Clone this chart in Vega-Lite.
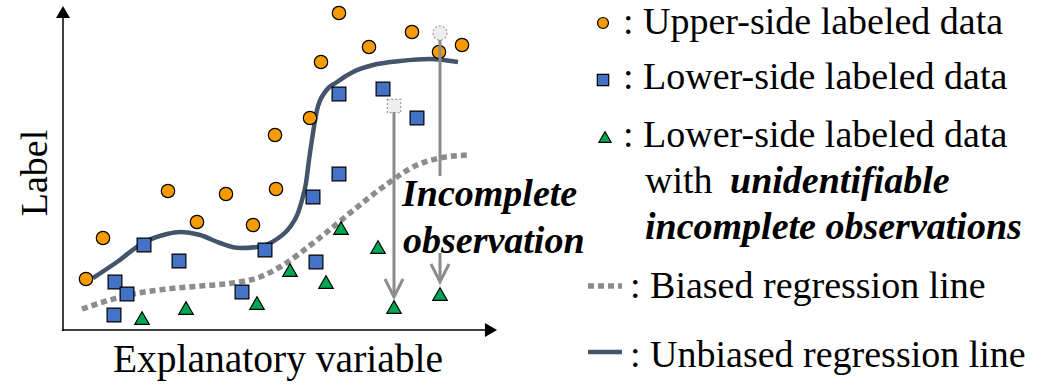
{
  "$schema": "https://vega.github.io/schema/vega-lite/v6.json",
  "width": 1057,
  "height": 389,
  "autosize": {"type": "fit", "contains": "padding"},
  "padding": 0,
  "background": "white",
  "config": {"view": {"stroke": null}},
  "resolve": {"scale": {"size": "independent", "shape": "independent"}},
  "datasets": {
    "axes": [
      {"x": 63, "y": 331, "x2": 63, "y2": 16},
      {"x": 62, "y": 330, "x2": 488, "y2": 330}
    ],
    "headsUp": [{"x": 63, "y": 12}],
    "headsRight": [{"x": 491, "y": 330}],
    "biased": [
      {"x": 82, "y": 309, "s": "curve"}, {"x": 100, "y": 303, "s": "curve"}, {"x": 133, "y": 294, "s": "curve"},
      {"x": 167, "y": 289, "s": "curve"}, {"x": 200, "y": 286, "s": "curve"}, {"x": 233, "y": 283, "s": "curve"},
      {"x": 260, "y": 277, "s": "curve"}, {"x": 283, "y": 265, "s": "curve"}, {"x": 317, "y": 240, "s": "curve"},
      {"x": 350, "y": 213, "s": "curve"}, {"x": 383, "y": 187, "s": "curve"}, {"x": 417, "y": 165, "s": "curve"},
      {"x": 440, "y": 158, "s": "curve"}, {"x": 468, "y": 155, "s": "curve"},
      {"x": 588, "y": 286, "s": "legend"}, {"x": 622, "y": 286, "s": "legend"}
    ],
    "unbiased": [
      {"x": 93, "y": 278, "s": "curve"}, {"x": 117, "y": 262, "s": "curve"}, {"x": 143, "y": 243, "s": "curve"},
      {"x": 167, "y": 234, "s": "curve"}, {"x": 180, "y": 232, "s": "curve"}, {"x": 200, "y": 235, "s": "curve"},
      {"x": 220, "y": 243, "s": "curve"}, {"x": 240, "y": 248, "s": "curve"}, {"x": 257, "y": 247, "s": "curve"},
      {"x": 277, "y": 239, "s": "curve"}, {"x": 290, "y": 227, "s": "curve"}, {"x": 298, "y": 213, "s": "curve"},
      {"x": 302, "y": 200, "s": "curve"}, {"x": 306, "y": 183, "s": "curve"}, {"x": 309, "y": 160, "s": "curve"},
      {"x": 313, "y": 133, "s": "curve"}, {"x": 317, "y": 110, "s": "curve"}, {"x": 325, "y": 92, "s": "curve"},
      {"x": 337, "y": 82, "s": "curve"}, {"x": 353, "y": 72, "s": "curve"}, {"x": 373, "y": 65, "s": "curve"},
      {"x": 400, "y": 61, "s": "curve"}, {"x": 430, "y": 59, "s": "curve"}, {"x": 458, "y": 62, "s": "curve"},
      {"x": 588, "y": 352, "s": "legend"}, {"x": 622, "y": 352, "s": "legend"}
    ],
    "pts": [
      {"x": 86, "y": 279, "g": "upper", "role": "data"}, {"x": 103, "y": 238, "g": "upper", "role": "data"},
      {"x": 168, "y": 191, "g": "upper", "role": "data"}, {"x": 197, "y": 222, "g": "upper", "role": "data"},
      {"x": 226, "y": 194, "g": "upper", "role": "data"}, {"x": 253, "y": 225, "g": "upper", "role": "data"},
      {"x": 275, "y": 135, "g": "upper", "role": "data"}, {"x": 276, "y": 189, "g": "upper", "role": "data"},
      {"x": 310, "y": 118, "g": "upper", "role": "data"}, {"x": 321, "y": 62, "g": "upper", "role": "data"},
      {"x": 339, "y": 13, "g": "upper", "role": "data"}, {"x": 369, "y": 47, "g": "upper", "role": "data"},
      {"x": 412, "y": 32, "g": "upper", "role": "data"}, {"x": 439, "y": 52, "g": "upper", "role": "data"},
      {"x": 462, "y": 45, "g": "upper", "role": "data"}, {"x": 603, "y": 23, "g": "upper", "role": "legend"},
      {"x": 144, "y": 245, "g": "lower", "role": "data"}, {"x": 179, "y": 261, "g": "lower", "role": "data"},
      {"x": 115, "y": 282, "g": "lower", "role": "data"}, {"x": 127, "y": 294, "g": "lower", "role": "data"},
      {"x": 114, "y": 315, "g": "lower", "role": "data"}, {"x": 242, "y": 292, "g": "lower", "role": "data"},
      {"x": 265, "y": 250, "g": "lower", "role": "data"}, {"x": 316, "y": 262, "g": "lower", "role": "data"},
      {"x": 313, "y": 197, "g": "lower", "role": "data"}, {"x": 339, "y": 174, "g": "lower", "role": "data"},
      {"x": 339, "y": 94, "g": "lower", "role": "data"}, {"x": 383, "y": 89, "g": "lower", "role": "data"},
      {"x": 417, "y": 118, "g": "lower", "role": "data"}, {"x": 603, "y": 80, "g": "lower", "role": "legend"},
      {"x": 142, "y": 318, "g": "unid", "role": "data"}, {"x": 186, "y": 308, "g": "unid", "role": "data"},
      {"x": 257, "y": 303, "g": "unid", "role": "data"}, {"x": 290, "y": 270, "g": "unid", "role": "data"},
      {"x": 326, "y": 282, "g": "unid", "role": "data"}, {"x": 341, "y": 228, "g": "unid", "role": "data"},
      {"x": 378, "y": 247, "g": "unid", "role": "data"}, {"x": 394, "y": 307, "g": "unid", "role": "data"},
      {"x": 440, "y": 294, "g": "unid", "role": "data"}, {"x": 605, "y": 137, "g": "unid", "role": "legend"}
    ],
    "ghostSquare": [{"x": 394, "y": 106}],
    "ghostCircle": [{"x": 440, "y": 33}],
    "arrows": [
      {"x": 394, "y": 112, "x2": 394, "y2": 296},
      {"x": 440, "y": 40, "x2": 440, "y2": 176},
      {"x": 440, "y": 253, "x2": 440, "y2": 281}
    ],
    "chevrons": [
      {"x": 394, "y": 288},
      {"x": 440, "y": 273}
    ],
    "plain": [
      {"x": 623, "y": 34, "t": ": Upper-side labeled data"},
      {"x": 623, "y": 89, "t": ": Lower-side labeled data"},
      {"x": 623, "y": 147, "t": ": Lower-side labeled data"},
      {"x": 645, "y": 193, "t": "with"},
      {"x": 630, "y": 298, "t": ": Biased regression line"},
      {"x": 630, "y": 367, "t": ": Unbiased regression line"}
    ],
    "bold": [
      {"x": 730, "y": 193, "t": "unidentifiable"},
      {"x": 645, "y": 239, "t": "incomplete observations"},
      {"x": 402, "y": 206, "t": "Incomplete"},
      {"x": 403, "y": 253, "t": "observation"}
    ],
    "titles": [
      {"x": 278, "y": 372, "t": "Explanatory variable"}
    ],
    "ylabel": [
      {"x": 47, "y": 173, "t": "Label"}
    ]
  },
  "encoding": {
    "x": {"field": "x", "type": "quantitative", "scale": {"domain": [0, 1057], "nice": false, "zero": false}, "axis": null},
    "y": {"field": "y", "type": "quantitative", "scale": {"domain": [0, 389], "nice": false, "zero": false, "reverse": true}, "axis": null}
  },
  "layer": [
    {
      "data": {"name": "axes"},
      "mark": {"type": "rule", "color": "black", "strokeWidth": 1.5},
      "encoding": {"x2": {"field": "x2"}, "y2": {"field": "y2"}}
    },
    {
      "data": {"name": "headsUp"},
      "mark": {"type": "point", "shape": "triangle-up", "filled": true, "color": "black", "size": 196, "opacity": 1}
    },
    {
      "data": {"name": "headsRight"},
      "mark": {"type": "point", "shape": "triangle-right", "filled": true, "color": "black", "size": 196, "opacity": 1}
    },
    {
      "data": {"name": "biased"},
      "mark": {"type": "line", "color": "#8c8c8c", "strokeWidth": 5.5, "strokeDash": [6, 4], "strokeCap": "butt", "interpolate": "monotone"},
      "encoding": {"detail": {"field": "s"}}
    },
    {
      "data": {"name": "unbiased"},
      "mark": {"type": "line", "color": "#44546a", "strokeWidth": 4.5, "interpolate": "monotone"},
      "encoding": {"detail": {"field": "s"}}
    },
    {
      "data": {"name": "pts"},
      "transform": [{"filter": "datum.g === 'upper'"}],
      "mark": {"type": "point", "shape": "circle", "filled": true, "fill": "#f59b00", "stroke": "black", "strokeWidth": 1.2, "opacity": 1},
      "encoding": {"size": {"field": "role", "type": "nominal", "scale": {"domain": ["data", "legend"], "range": [180, 120]}, "legend": null}}
    },
    {
      "data": {"name": "pts"},
      "transform": [{"filter": "datum.g === 'lower'"}],
      "mark": {"type": "point", "shape": "square", "filled": true, "fill": "#4472c4", "stroke": "black", "strokeWidth": 1.2, "opacity": 1},
      "encoding": {"size": {"field": "role", "type": "nominal", "scale": {"domain": ["data", "legend"], "range": [190, 130]}, "legend": null}}
    },
    {
      "data": {"name": "pts"},
      "transform": [{"filter": "datum.g === 'unid'"}],
      "mark": {"type": "point", "shape": "triangle-up", "filled": true, "fill": "#00a550", "stroke": "black", "strokeWidth": 1.2, "opacity": 1},
      "encoding": {"size": {"field": "role", "type": "nominal", "scale": {"domain": ["data", "legend"], "range": [210, 150]}, "legend": null}}
    },
    {
      "data": {"name": "ghostSquare"},
      "mark": {"type": "point", "shape": "square", "filled": true, "fill": "#eeeeee", "stroke": "#9a9a9a", "strokeWidth": 1.2, "strokeDash": [2, 2], "size": 180, "opacity": 1}
    },
    {
      "data": {"name": "ghostCircle"},
      "mark": {"type": "point", "shape": "circle", "filled": true, "fill": "#eeeeee", "stroke": "#9a9a9a", "strokeWidth": 1.2, "strokeDash": [2, 2], "size": 200, "opacity": 1}
    },
    {
      "data": {"name": "arrows"},
      "mark": {"type": "rule", "color": "#8c8c8c", "strokeWidth": 3},
      "encoding": {"x2": {"field": "x2"}, "y2": {"field": "y2"}}
    },
    {
      "data": {"name": "chevrons"},
      "mark": {"type": "point", "shape": "M-1,-1L0,1L1,-1", "filled": false, "stroke": "#8c8c8c", "strokeWidth": 3, "size": 324, "opacity": 1}
    },
    {
      "data": {"name": "plain"},
      "mark": {"type": "text", "font": "Liberation Serif", "fontSize": 38, "align": "left", "baseline": "alphabetic", "color": "black"},
      "encoding": {"text": {"field": "t"}}
    },
    {
      "data": {"name": "bold"},
      "mark": {"type": "text", "font": "Liberation Serif", "fontSize": 38, "fontWeight": "bold", "fontStyle": "italic", "align": "left", "baseline": "alphabetic", "color": "black"},
      "encoding": {"text": {"field": "t"}}
    },
    {
      "data": {"name": "titles"},
      "mark": {"type": "text", "font": "Liberation Serif", "fontSize": 39.5, "align": "center", "baseline": "alphabetic", "color": "black"},
      "encoding": {"text": {"field": "t"}}
    },
    {
      "data": {"name": "ylabel"},
      "mark": {"type": "text", "font": "Liberation Serif", "fontSize": 38, "align": "center", "baseline": "alphabetic", "angle": 270, "color": "black"},
      "encoding": {"text": {"field": "t"}}
    }
  ]
}
